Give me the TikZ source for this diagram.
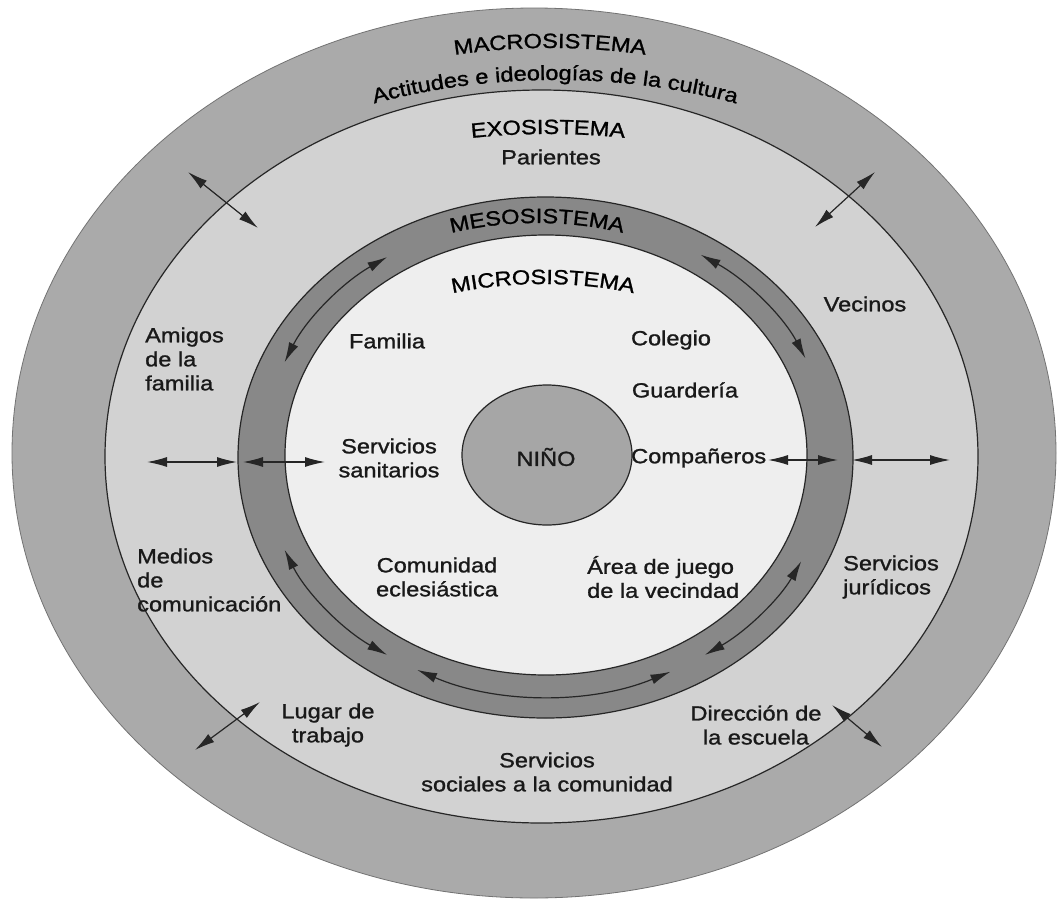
\documentclass[tikz,border=0pt]{standalone}
\usepackage{fontspec}
\setmainfont{Liberation Sans}[FakeStretch=1.15,FakeBold=1.2]
\usetikzlibrary{arrows.meta,decorations.text}
\definecolor{macroc}{RGB}{170,170,170}
\definecolor{exoc}{RGB}{210,210,210}
\definecolor{mesoc}{RGB}{136,136,136}
\definecolor{microc}{RGB}{238,238,238}
\definecolor{ninoc}{RGB}{166,166,166}
\newcommand\labfont{\fontsize{20.5}{24}\selectfont}
\begin{document}
\begin{tikzpicture}[x=1pt,y=1pt,
  ring/.style={draw=black!85, line width=1.2pt},
  lbl/.style={font=\labfont, text=black!90, inner sep=0pt},
  arr/.style={{Latex[length=20pt,width=10pt]}-{Latex[length=20pt,width=10pt]}, line width=1.2pt, draw=black!85},
  arctext/.style={decorate, decoration={text along path, text align=center, text={#1}}}
]
\useasboundingbox (0,0) rectangle (1061,-903);
\fill[white] (0,0) rectangle (1061,-903);
% rings
\path[fill=macroc, draw=black!55, line width=0.8pt] (534,-453) ellipse [x radius=522pt, y radius=445pt];
\path[fill=exoc, ring] (541.5,-456.5) ellipse [x radius=436.5pt, y radius=366.5pt];
\path[fill=mesoc, ring] (545.5,-457.5) ellipse [x radius=307.5pt, y radius=260.5pt];
\path[fill=microc, ring] (546,-455) ellipse [x radius=261pt, y radius=220pt];
\path[fill=ninoc, ring] (547,-455) ellipse [x radius=85pt, y radius=70pt];

% curved titles
\path[arctext={|\labfont|MACROSISTEMA}] ({550+520*cos(150)},{-456+408*sin(150)}) arc[start angle=150, end angle=30, x radius=520pt, y radius=408pt];
\path[arctext={|\labfont|Actitudes e ideologías de la cultura}] ({555+520*cos(150)},{-456+376*sin(150)}) arc[start angle=150, end angle=30, x radius=520pt, y radius=376pt];
\path[arctext={|\labfont|EXOSISTEMA}] ({548+490*cos(150)},{-456+322*sin(150)}) arc[start angle=150, end angle=30, x radius=490pt, y radius=322pt];
\path[arctext={|\labfont|MESOSISTEMA}] ({537+296*cos(150)},{-456+233*sin(150)}) arc[start angle=150, end angle=30, x radius=296pt, y radius=233pt];
\path[arctext={|\labfont|MICROSISTEMA}] ({543+280*cos(150)},{-456+172*sin(150)}) arc[start angle=150, end angle=30, x radius=280pt, y radius=172pt];

% labels
\node[lbl] (parientes) at (551,-157) {Parientes};
\node[lbl, align=left, anchor=west] (amigos) at (145,-359) {Amigos\\de la\\familia};
\node[lbl] (familia) at (387,-341) {Familia};
\node[lbl] (colegio) at (671,-340) {Colegio};
\node[lbl] (guarderia) at (685,-390) {Guardería};
\node[lbl] (vecinos) at (865,-304) {Vecinos};
\node[lbl, anchor=west] (companeros) at (631,-458) {Compañeros};
\node[lbl, align=center] (servsan) at (389,-458) {Servicios\\sanitarios};
\node[lbl] (nino) at (546,-457) {NIÑO};
\node[lbl, align=center] (comunidad) at (437,-577) {Comunidad\\eclesiástica};
\node[lbl, align=left, anchor=west] (area) at (587,-577) {Área de juego\\de la vecindad};
\node[lbl, align=left, anchor=west] (medios) at (137,-580) {Medios\\de\\comunicación};
\node[lbl, align=left, anchor=west] (juridicos) at (843,-577) {Servicios\\jurídicos};
\node[lbl, align=center] (lugar) at (328,-725) {Lugar de\\trabajo};
\node[lbl, align=center] (direccion) at (756,-725) {Dirección de\\la escuela};
\node[lbl, align=center] (sociales) at (547,-772) {Servicios\\sociales a la comunidad};

% straight arrows
\coordinate (tl1) at (188,-172); \coordinate (tl2) at (258,-228);
\coordinate (tr1) at (875,-172); \coordinate (tr2) at (815,-227);
\coordinate (bl1) at (260,-702); \coordinate (bl2) at (195,-750);
\coordinate (br1) at (832,-705); \coordinate (br2) at (882,-747);
\coordinate (hl1) at (147,-462); \coordinate (hl2) at (237,-462);
\coordinate (hl3) at (243,-462); \coordinate (hl4) at (325,-462);
\coordinate (hr1) at (768,-460); \coordinate (hr2) at (838,-460);
\coordinate (hr3) at (852,-460); \coordinate (hr4) at (950,-460);
\draw[arr] (tl1) -- (tl2);
\draw[arr] (tr1) -- (tr2);
\draw[arr] (bl1) -- (bl2);
\draw[arr] (br1) -- (br2);
\draw[arr] (hl1) -- (hl2);
\draw[arr] (hl3) -- (hl4);
\draw[arr] (hr1) -- (hr2);
\draw[arr] (hr3) -- (hr4);

% curved arrows in the mesosystem ring
\coordinate (ca1) at ({546+284*cos(124)},{-456+240*sin(124)});
\coordinate (ca2) at ({546+284*cos(57)},{-456+240*sin(57)});
\coordinate (ca3) at ({546+284*cos(203)},{-456+240*sin(203)});
\coordinate (ca4) at ({546+284*cos(243)},{-456+240*sin(243)});
\coordinate (ca5) at ({546+284*cos(334)},{-456+240*sin(334)});
\draw[arr] (ca1) arc[start angle=124, end angle=157, x radius=284pt, y radius=240pt];
\draw[arr] (ca2) arc[start angle=57, end angle=24, x radius=284pt, y radius=240pt];
\draw[arr] (ca3) arc[start angle=203, end angle=236, x radius=284pt, y radius=240pt];
\draw[arr] (ca4) arc[start angle=243, end angle=296, x radius=284pt, y radius=240pt];
\draw[arr] (ca5) arc[start angle=334, end angle=304, x radius=284pt, y radius=240pt];
\end{tikzpicture}
\end{document}
